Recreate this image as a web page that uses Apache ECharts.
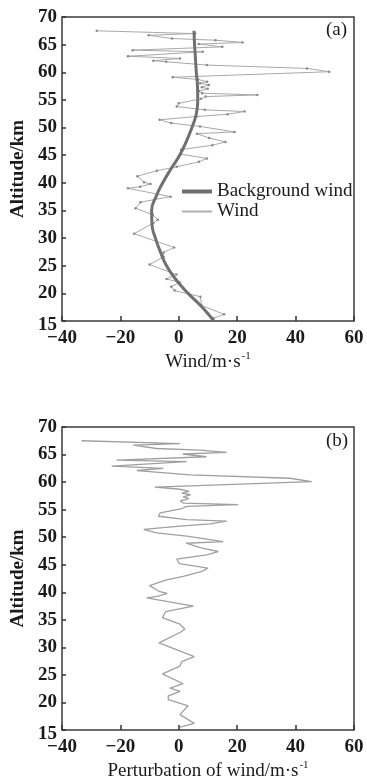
<!DOCTYPE html>
<html>
<head>
<meta charset="utf-8">
<script src="https://cdn.jsdelivr.net/npm/echarts@6/dist/echarts.min.js"></script>
<style>
  html, body { margin: 0; padding: 0; background: #fff; }
  #myChart { width: 367px; height: 782px; }
</style>
</head>
<body>
<div id="myChart"></div>
<script>
// altitude (km) of each sounding point, top to bottom
var altitudes = [67.5, 67.0, 66.7, 66.1, 65.8, 65.4, 65.1, 64.6, 64.0, 63.7, 62.9, 62.5, 62.1, 61.9, 61.3,
    60.7, 60.1, 59.1, 58.7, 58.3, 58.0, 57.7, 57.3, 57.0, 56.6, 56.2, 55.9, 55.6, 55.2, 54.4,
    53.8, 53.2, 52.9, 52.4, 52.0, 51.4, 50.8, 50.2, 49.2, 48.9, 48.1, 47.4, 46.8, 46.0, 45.2,
    44.4, 43.8, 42.9, 42.2, 41.2, 40.1, 39.8, 39.3, 39.0, 37.5, 36.5, 35.4, 34.2, 33.3, 32.7,
    30.8, 28.3, 27.4, 26.6, 25.2, 23.4, 22.6, 22.0, 21.2, 20.5, 19.4, 17.8, 16.2, 15.5];

// measured wind (m/s)
var windValues = [-28.1, 5.6, -10.3, -2.3, 12.6, 21.8, 6.8, 14.9, -15.8, 8.2, -17.4, 0.4, -8.7, -4.3, 9.6,
    43.9, 51.5, -2.1, 6.6, 9.7, 7.3, 10.3, 7.9, 9.9, 6.9, 8.0, 26.9, 9.2, 7.6, 0,
    -0.7, 8.9, 22.5, 16.7, 6.1, -6.6, -2.6, 7.3, 19.1, 6.2, 10.4, 16.0, 11.5, 0.8, 0.7,
    9.6, 6.9, -0.7, -7.5, -14.2, -11.9, -9.7, -13.2, -17.4, -2.8, -13.1, -14.8, -8.9, -7.2, -8.8,
    -15.3, -1.6, -5.2, -5.2, -10.0, -0.8, -4.2, 0.3, -2.6, -1.4, 7.4, 7.8, 15.5, 11.8];

// perturbation of wind (m/s)
var perturbValues = [-33.3, 0.4, -15.6, -7.6, 7.3, 16.4, 1.4, 9.5, -21.3, 2.7, -23.0, -5.3, -14.4, -10.0, 3.8,
    38.0, 45.5, -8.2, 0.4, 3.5, 1.0, 4.0, 1.5, 3.5, 0.5, 1.5, 20.4, 2.7, 1.1, -6.4,
    -7.0, 2.7, 16.4, 10.7, 0.4, -12.0, -7.6, 2.7, 15.2, 2.5, 7.3, 13.5, 9.5, -0.7, 0.2,
    10.0, 8.0, 1.5, -4.5, -10.0, -6.5, -4.0, -7.0, -11.0, 5.0, -4.5, -5.6, 0.4, 2.1, 0.4,
    -6.8, 5.3, 1.0, 0.4, -5.6, 1.5, -3.0, 0.5, -3.6, -3.6, 3.2, 0.4, 5.3, 0.4];

// background wind profile
var bgAltitudes = [67.5, 65, 62.5, 60, 57.5, 55, 52.5, 50, 47.5, 45, 42.5, 40, 37.5, 35, 32.5, 30, 27.5, 25, 22.5, 20, 17.5, 16, 15];
var bgValues = [5.2, 5.4, 5.7, 6.0, 6.4, 6.5, 6.0, 4.5, 2.6, 0.3, -2.7, -5.5, -7.8, -9.3, -9.2, -8, -6.3, -4.2, -1, 3.2, 8, 10.5, 12];

var seriesNames = ['Background wind', 'Wind'];
var panelTags = ['(a)', '(b)'];
var xNames = ['Wind/m·s{sup|-1}', 'Perturbation of wind/m·s{sup|-1}'];
var yName = 'Altitude/km';

function pairs(xs, ys) {
    return xs.map(function (v, i) { return [v, ys[i]]; });
}

window.onload = function () {
    var myChart = echarts.init(document.getElementById('myChart'));
    var font = 'Liberation Serif';
    var txt = { fontFamily: font, fontSize: 19, color: '#1a1a1a' };

    function xAxis(idx) {
        return {
            gridIndex: idx, type: 'value', min: -40, max: 60, interval: 20,
            name: xNames[idx], nameLocation: 'middle', nameGap: 30,
            nameTextStyle: {
                fontFamily: font, fontSize: 19, color: '#1a1a1a',
                rich: { sup: { fontFamily: font, fontSize: 11, color: '#1a1a1a', padding: [0, 0, 12, 1] } }
            },
            axisLine: { show: false, onZero: false },
            axisTick: { show: true, inside: true, length: 5, lineStyle: { color: '#333', width: 1.5 } },
            splitLine: { show: false },
            axisLabel: {
                fontFamily: font, fontSize: 19, color: '#1a1a1a', fontWeight: 'bold', margin: 8,
                formatter: function (v) { return v < 0 ? '\u2212' + Math.abs(v) : '' + v; }
            }
        };
    }
    function yAxis(idx) {
        return {
            gridIndex: idx, type: 'value', min: 15, max: 70, interval: 5,
            name: yName, nameLocation: 'middle', nameGap: 34,
            nameTextStyle: { fontFamily: font, fontSize: 19, color: '#1a1a1a', fontWeight: 'bold' },
            axisLine: { show: false, onZero: false },
            axisTick: { show: true, inside: true, length: 4, lineStyle: { color: '#333', width: 1.5 } },
            splitLine: { show: false },
            axisLabel: {
                fontFamily: font, fontSize: 19, color: '#1a1a1a', fontWeight: 'bold', margin: 5,
                formatter: function (v) { return v === 15 ? '{low|15}' : '' + v; },
                rich: { low: { fontFamily: font, fontSize: 19, color: '#1a1a1a', fontWeight: 'bold', padding: [9, 0, 0, 0] } }
            }
        };
    }

    var option = {
        animation: false,
        grid: [
            { left: 62, top: 17, width: 292, height: 304, show: true, borderColor: '#3a3a3a', borderWidth: 1.5 },
            { left: 62, top: 427, width: 292, height: 304, show: true, borderColor: '#3a3a3a', borderWidth: 1.5 }
        ],
        xAxis: [xAxis(0), xAxis(1)],
        yAxis: [yAxis(0), yAxis(1)],
        legend: [
            {
                data: [seriesNames[0]], icon: 'rect',
                left: 177, top: 177,
                itemWidth: 30, itemHeight: 4,
                itemStyle: { color: '#6e6e6e' },
                textStyle: txt
            },
            {
                data: [seriesNames[1]], icon: 'rect',
                left: 177, top: 197,
                itemWidth: 30, itemHeight: 2,
                itemStyle: { color: '#b0b0b0' },
                textStyle: txt
            }
        ],
        graphic: [
            { type: 'text', left: 326, top: 21, style: { text: panelTags[0], font: '19px "Liberation Serif"', fill: '#1a1a1a' } },
            { type: 'text', left: 326, top: 432, style: { text: panelTags[1], font: '19px "Liberation Serif"', fill: '#1a1a1a' } }
        ],
        series: [
            {
                name: seriesNames[0], type: 'line', xAxisIndex: 0, yAxisIndex: 0,
                data: pairs(bgValues, bgAltitudes), smooth: true, symbol: 'none',
                lineStyle: { color: '#707070', width: 3 }, itemStyle: { color: '#707070' }, z: 3
            },
            {
                name: seriesNames[1], type: 'line', xAxisIndex: 0, yAxisIndex: 0,
                data: pairs(windValues, altitudes), symbol: 'circle', symbolSize: 2.5,
                lineStyle: { color: '#a8a8a8', width: 1 }, itemStyle: { color: '#8a8a8a' }, z: 2
            },
            {
                name: 'Perturbation', type: 'line', xAxisIndex: 1, yAxisIndex: 1,
                data: pairs(perturbValues, altitudes), symbol: 'none',
                lineStyle: { color: '#a0a0a0', width: 1.3 }
            }
        ]
    };
    myChart.setOption(option);
};
</script>
</body>
</html>
